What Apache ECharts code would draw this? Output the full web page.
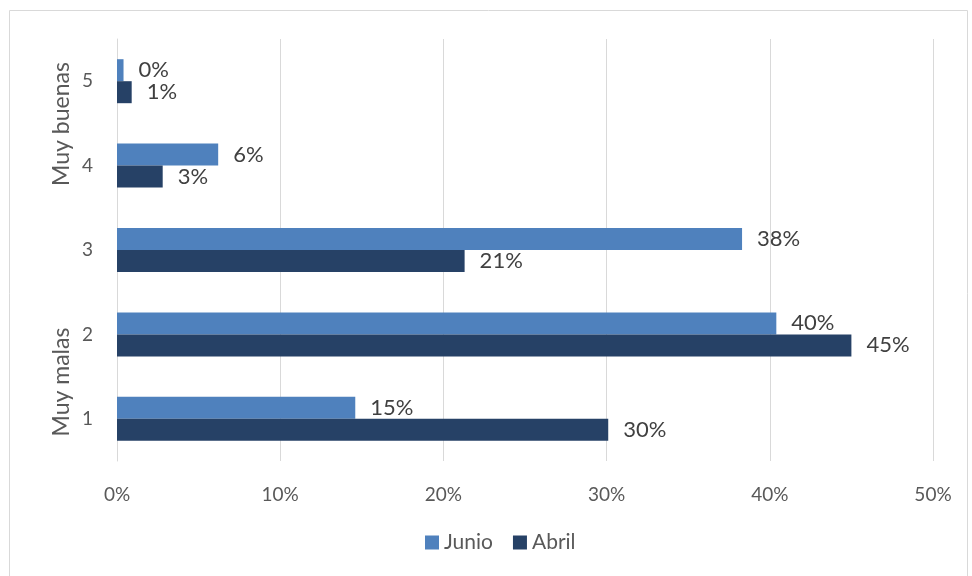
<!DOCTYPE html>
<html><head><meta charset="utf-8">
<script src="https://cdn.jsdelivr.net/npm/echarts@6/dist/echarts.min.js"></script>
<style>html,body{margin:0;padding:0;background:#fff}#c{width:972px;height:576px}</style>
</head><body><div id="c"></div>
<script>
const categories = ['1', '2', '3', '4', '5'];
const junio = [14.6, 40.4, 38.3, 6.2, 0.4];
const abril = [30.1, 45.0, 21.3, 2.8, 0.9];
const xTicks = [0, 10, 20, 30, 40, 50];
const sideLabels = ['Muy buenas', 'Muy malas'];

const chart = echarts.init(document.getElementById('c'));
const font = 'Lato, "Open Sans", sans-serif';
const lbl = {
  show: true, position: 'right', distance: 15,
  formatter: p => Math.round(p.value) + '%',
  color: '#404040', fontSize: 22, fontFamily: font
};
chart.setOption({
  animation: false,
  textStyle: { fontFamily: font },
  grid: { left: 117, right: 39, top: 39, height: 422, containLabel: false },
  xAxis: {
    type: 'value', min: xTicks[0], max: xTicks[xTicks.length - 1], interval: 10,
    axisLabel: { formatter: '{value}%', color: '#595959', fontSize: 19, margin: 24, fontFamily: font },
    splitLine: { show: true, lineStyle: { color: '#d9d9d9', width: 1 } },
    axisLine: { show: false }, axisTick: { show: false }
  },
  yAxis: {
    type: 'category', data: categories,
    axisLabel: { color: '#595959', fontSize: 19, margin: 24, fontFamily: font },
    axisLine: { show: true, lineStyle: { color: '#d9d9d9' } },
    axisTick: { show: false }
  },
  legend: {
    data: ['Junio', 'Abril'], bottom: 18, left: 420,
    itemWidth: 14, itemHeight: 14, itemGap: 20,
    icon: 'rect',
    textStyle: { color: '#595959', fontSize: 21, fontFamily: font, padding: [0, 0, 0, 0] }
  },
  series: [
    { name: 'Junio', type: 'bar', data: junio, barWidth: 22, barGap: '0%',
      itemStyle: { color: '#4f81bd' }, label: lbl },
    { name: 'Abril', type: 'bar', data: abril, barWidth: 22, barGap: '0%',
      itemStyle: { color: '#264166' }, label: lbl }
  ],
  graphic: [
    { type: 'rect', left: 7, top: 8, shape: { width: 958, height: 570 },
      style: { fill: 'none', stroke: '#d9d9d9', lineWidth: 1 }, silent: true },
    { type: 'text', x: 62, y: 124, rotation: Math.PI / 2,
      style: { text: sideLabels[0], fill: '#595959', font: '23px ' + font, align: 'center', verticalAlign: 'middle' } },
    { type: 'text', x: 62, y: 382, rotation: Math.PI / 2,
      style: { text: sideLabels[1], fill: '#595959', font: '23px ' + font, align: 'center', verticalAlign: 'middle' } }
  ]
});
</script></body></html>
